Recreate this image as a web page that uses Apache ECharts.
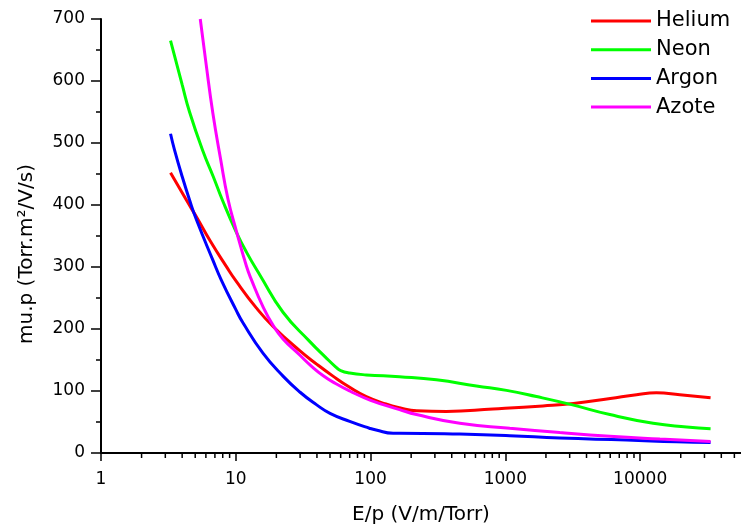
<!DOCTYPE html>
<html>
<head>
<meta charset="utf-8">
<script src="https://cdn.jsdelivr.net/npm/echarts@6/dist/echarts.min.js"></script>
<style>
html,body{margin:0;padding:0;background:#fff;}
#chart{width:741px;height:526px;}
</style>
</head>
<body>
<div id="chart"></div>
<script>
// ---- data (E/p, mu.p) ----
const seriesNames = ['Helium', 'Neon', 'Argon', 'Azote'];
const helium = [[3.28,452],[4.3,408],[5.1,381],[6.5,341],[8.5,301],[10,278],[14.2,234],[18.9,204],[29.8,165],[40,143],[52.6,124],[70,106],[93,91],[130,79],[164,73],[220,68],[365,67],[810,71],[1900,76],[3200,80],[6000,88],[9400,94],[13200,97],[19700,94],[33300,89]];
const neon = [[3.28,665],[4.0,594],[4.54,550],[5.7,487],[6.8,446],[8.02,406],[10,358],[12,324],[15.2,286],[22.4,227],[35.3,180],[46,155],[55,139],[60,133],[70,129],[93,126],[164,123],[308,118],[610,108],[1019,101],[1702,91],[3095,78],[5957,62],[12490,48],[22100,42],[33300,39]];
const argon = [[3.28,515],[3.51,489],[4.0,446],[4.54,408],[5.09,377],[6.76,311],[7.81,279],[9.97,232],[11.3,210],[15.9,161],[22.4,124],[30,98],[39.6,78],[50,64],[70,51],[98,40],[110,37],[147,32],[164,32],[459,30.6],[1078,28],[2535,24],[7925,21],[18620,18],[33300,17]];
const azote = [[5.45,700],[6.0,630],[6.76,548],[7.7,475],[8.74,410],[10.1,358],[11.97,302],[13.03,280],[15.9,236],[18.9,206],[22.4,184],[29.8,158],[36,141],[44.3,125],[55,112],[70,100],[100,85],[164,70],[219,62],[459,48],[1078,40],[2535,33],[5957,27],[14000,22.6],[33300,18.7]];
const seriesColors = ['#ff0000', '#00ff00', '#0000ff', '#ff00ff'];
const yTicks = [0, 700, 100];            // min, max, interval
const xExtent = [1, 56000];
const minorXTicks = [];
for (let d = 1; d <= 10000; d *= 10) {
  for (let k = 2; k <= 9; k++) { if (k * d < xExtent[1]) minorXTicks.push(k * d); }
}

const FONT = 'DejaVu Sans';
const chart = echarts.init(document.getElementById('chart'), null, {renderer: 'canvas'});
const datasets = [helium, neon, argon, azote];

const option = {
  animation: false,
  backgroundColor: '#ffffff',
  grid: {left: 101, right: 0, top: 19, bottom: 73, containLabel: false, outerBoundsMode: 'none'},
  legend: {
    data: seriesNames,
    orient: 'vertical',
    left: 591, top: 10, padding: 0,
    itemWidth: 60, itemHeight: 14, itemGap: 6.7,
    icon: 'path://M0,0L60,0L60,3L0,3Z',
    textStyle: {fontFamily: FONT, fontSize: 21, color: '#000', lineHeight: 22}
  },
  xAxis: {
    type: 'log', logBase: 10, min: xExtent[0], max: xExtent[1],
    axisLine: {show: true, onZero: false, lineStyle: {color: '#000', width: 2}},
    axisTick: {show: true, inside: false, length: 8, lineStyle: {color: '#000', width: 1.5}},
    minorTick: {show: false},
    splitLine: {show: false},
    axisLabel: {
      margin: 18, fontFamily: FONT, fontSize: 17, color: '#000', showMaxLabel: false,
      formatter: v => String(Math.round(v))
    },
    name: 'E/p (V/m/Torr)', nameLocation: 'middle', nameGap: 52,
    nameTextStyle: {fontFamily: FONT, fontSize: 20, color: '#000'}
  },
  yAxis: {
    type: 'value', min: yTicks[0], max: yTicks[1], interval: yTicks[2],
    axisLine: {show: true, onZero: false, lineStyle: {color: '#000', width: 2}},
    axisTick: {show: true, inside: false, length: 10, lineStyle: {color: '#000', width: 1.5}},
    minorTick: {show: true, splitNumber: 2, length: 5, lineStyle: {color: '#000', width: 1.5}},
    splitLine: {show: false},
    axisLabel: {margin: 16, fontFamily: FONT, fontSize: 17, color: '#000'}
  },
  graphic: [{
    type: 'text', x: 27, y: 254, rotation: Math.PI / 2,
    style: {text: 'mu.p (Torr.m²/V/s)', font: '20px "DejaVu Sans"', fill: '#000', align: 'center', verticalAlign: 'middle'}
  }],
  series: datasets.map((d, i) => ({
    name: seriesNames[i], type: 'line', data: d, showSymbol: false, symbol: 'none',
    smooth: 0.5, clip: true,
    lineStyle: {color: seriesColors[i], width: 3},
    itemStyle: {color: seriesColors[i]},
    z: 3 + (i === 3 ? 1 : 0)
  })).concat([{
    name: 'minor', type: 'custom', coordinateSystem: 'cartesian2d', silent: true, clip: false,
    data: minorXTicks.map(v => [v, 0]),
    renderItem: function (params, api) {
      const p = api.coord([api.value(0), 0]);
      return {type: 'line', shape: {x1: p[0], y1: p[1], x2: p[0], y2: p[1] + 5}, style: {stroke: '#000', lineWidth: 1.5}};
    },
    z: 10
  }])
};
chart.setOption(option);
</script>
</body>
</html>
